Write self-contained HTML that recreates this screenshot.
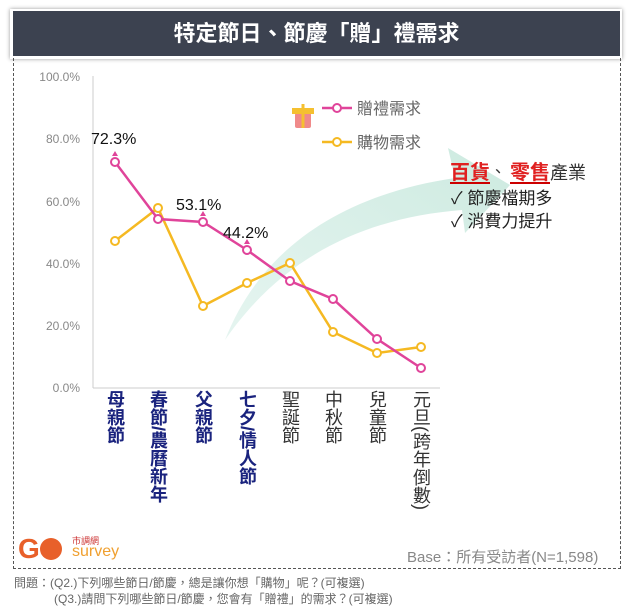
<!DOCTYPE html>
<html><head><meta charset="utf-8"><style>
body{margin:0;width:633px;height:612px;background:#fff;font-family:"Liberation Sans","Noto Sans CJK TC",sans-serif;position:relative;overflow:hidden}
.t{position:absolute;white-space:nowrap}
.v{position:absolute;top:390px;writing-mode:vertical-rl;font-size:18px;line-height:20px;letter-spacing:0px;white-space:nowrap}
.b{color:#1a237e;font-weight:bold}
.n{color:#333}
</style></head><body>
<div style="position:absolute;left:10px;top:9px;width:612px;height:50px;background:#fff;box-shadow:0 0 4px #999"></div>
<div style="position:absolute;left:13px;top:11px;width:607px;height:45px;background:#3c4250"></div>
<div class="t" style="left:13px;top:11px;width:607px;line-height:45px;text-align:center;color:#fff;font-size:22px;font-weight:bold">特定節日、節慶「贈」禮需求</div>
<div style="position:absolute;left:13px;top:58px;width:606px;height:510px;border:1.5px dashed #555;border-top:none"></div>
<svg width="633" height="612" style="position:absolute;left:0;top:0" font-family="Liberation Sans, Noto Sans CJK TC, sans-serif">
<defs><linearGradient id="g" x1="0" y1="1" x2="1" y2="0"><stop offset="0" stop-color="#d4eee6" stop-opacity="0.6"/><stop offset="1" stop-color="#cdeae0"/></linearGradient></defs>
<path d="M225,340 C260,250 340,195 455,178 L448,148 L510,185 L465,233 L462,210 C360,218 280,260 225,340 Z" fill="url(#g)"/>
<line x1="93" y1="76" x2="93" y2="388" stroke="#ccc"/>
<line x1="93" y1="388" x2="440" y2="388" stroke="#ccc"/>
<g font-size="12" fill="#888" text-anchor="end">
<text x="80" y="81">100.0%</text><text x="80" y="143">80.0%</text><text x="80" y="206">60.0%</text><text x="80" y="268">40.0%</text><text x="80" y="330">20.0%</text><text x="80" y="392">0.0%</text></g>
<polyline points="115,241 158,208 203,306 247,283 290,263 333,332 377,353 421,347" fill="none" stroke="#f5b922" stroke-width="2.5"/>
<polyline points="115,162 158,219 203,222 247,250 290,281 333,299 377,339 421,368" fill="none" stroke="#e0449a" stroke-width="2.5"/>
<g fill="#fff" stroke="#f5b922" stroke-width="2"><circle cx="115" cy="241" r="4"/><circle cx="158" cy="208" r="4"/><circle cx="203" cy="306" r="4"/><circle cx="247" cy="283" r="4"/><circle cx="290" cy="263" r="4"/><circle cx="333" cy="332" r="4"/><circle cx="377" cy="353" r="4"/><circle cx="421" cy="347" r="4"/></g>
<g fill="#fff" stroke="#e0449a" stroke-width="2"><circle cx="115" cy="162" r="4"/><circle cx="158" cy="219" r="4"/><circle cx="203" cy="222" r="4"/><circle cx="247" cy="250" r="4"/><circle cx="290" cy="281" r="4"/><circle cx="333" cy="299" r="4"/><circle cx="377" cy="339" r="4"/><circle cx="421" cy="368" r="4"/></g>
<g fill="#e0449a"><path d="M112,156 L115,151 L118,156Z"/><path d="M200,216 L203,211 L206,216Z"/><path d="M244,244 L247,239 L250,244Z"/></g>
<g font-size="16" fill="#111"><text x="91" y="144">72.3%</text><text x="176" y="210">53.1%</text><text x="223" y="238">44.2%</text></g>
<rect x="295" y="113" width="16" height="15" rx="2" fill="#f08a8a"/><rect x="292" y="108" width="22" height="6" fill="#f5c030"/><line x1="303" y1="104" x2="303" y2="128" stroke="#f5c030" stroke-width="3"/>
<line x1="322" y1="108" x2="352" y2="108" stroke="#e0449a" stroke-width="2.5"/><circle cx="337" cy="108" r="4" fill="#fff" stroke="#e0449a" stroke-width="2"/>
<line x1="322" y1="142" x2="352" y2="142" stroke="#f5b922" stroke-width="2.5"/><circle cx="337" cy="142" r="4" fill="#fff" stroke="#f5b922" stroke-width="2"/>
<g font-size="16" fill="#666"><text x="357" y="114">贈禮需求</text><text x="357" y="148">購物需求</text></g>
<text x="450" y="179" font-size="20" font-weight="bold" fill="#e02020">百貨</text><text x="490" y="177" font-size="16" fill="#333">、</text><text x="510" y="179" font-size="20" font-weight="bold" fill="#e02020">零售</text><text x="550" y="179" font-size="18" fill="#333">產業</text>
<line x1="450" y1="183" x2="490" y2="183" stroke="#c00" stroke-width="2"/><line x1="510" y1="183" x2="550" y2="183" stroke="#c00" stroke-width="2"/>
<g font-size="17" fill="#222"><text x="451" y="204">✓ 節慶檔期多</text><text x="451" y="227">✓ 消費力提升</text></g>
</svg>
<div class="v b" style="left:105px">母親節</div>
<div class="v b" style="left:148px">春節/農曆新年</div>
<div class="v b" style="left:193px">父親節</div>
<div class="v b" style="left:237px">七夕/情人節</div>
<div class="v n" style="left:280px">聖誕節</div>
<div class="v n" style="left:323px">中秋節</div>
<div class="v n" style="left:367px">兒童節</div>
<div class="v n" style="left:411px">元旦(跨年倒數)</div>
<div class="t" style="left:18px;top:533px;font-size:28px;color:#e8602a;font-weight:bold">G<span style="display:inline-block;width:22px;height:22px;border-radius:50%;background:#e8602a;vertical-align:-2px"></span></div>
<div class="t" style="left:72px;top:534px;font-size:9px;color:#c33">市調網</div>
<div class="t" style="left:72px;top:543px;font-size:16px;color:#f0a030">survey</div>
<div class="t" style="left:407px;top:546px;font-size:15px;color:#888">Base：所有受訪者(N=1,598)</div>
<div class="t" style="left:14px;top:574px;font-size:12px;color:#666">問題：(Q2.)下列哪些節日/節慶，總是讓你想「購物」呢？(可複選)</div>
<div class="t" style="left:54px;top:590px;font-size:12px;color:#666">(Q3.)請問下列哪些節日/節慶，您會有「贈禮」的需求？(可複選)</div>
</body></html>
